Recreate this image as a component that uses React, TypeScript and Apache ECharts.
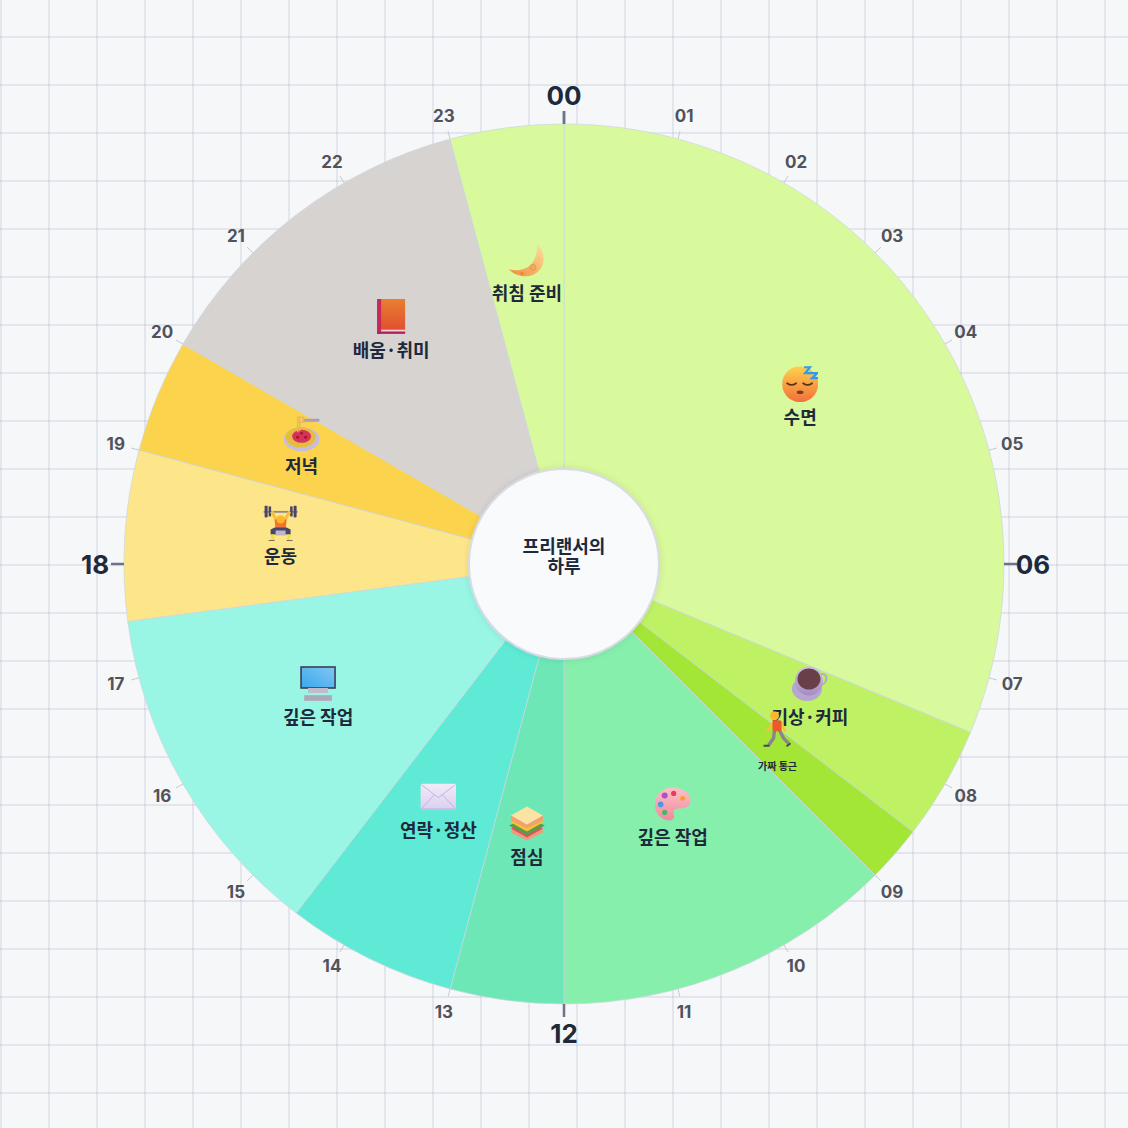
import React, { useEffect, useRef } from 'react'
import * as echarts from 'echarts'

const activities = ['수면', '기상·커피', '가짜 통근', '깊은 작업', '점심', '연락·정산', '깊은 작업', '운동', '저녁', '배움·취미', '취침 준비']
const hours = [7.5, 1, 0.5, 3, 1, 1.5, 3, 1.5, 1, 3, 1]
const colors = ['#d9f99d', '#bef264', '#a3e635', '#86efac', '#6ee7b7', '#5eead4', '#99f6e4', '#fde68a', '#fcd34d', '#d6d3d1', '#d9f99d']
const icons = ['sleep', 'coffee', 'walk', 'palette', 'sandwich', 'mail', 'monitor', 'lift', 'pasta', 'book', 'moon']
const hourLabels = ['00', '01', '02', '03', '04', '05', '06', '07', '08', '09', '10', '11', '12', '13', '14', '15', '16', '17', '18', '19', '20', '21', '22', '23']
const majorLabels = ['00', '06', '12', '18']
const centerTitle = '프리랜서의\n하루'

const CX = 564
const CY = 564
const FONT = '"Noto Sans CJK KR", "Noto Sans", sans-serif'

const lg = (id: string, a: string, b: string, extra = 'x1="0" y1="0" x2="0" y2="1"') =>
  `<linearGradient id="${id}" ${extra}><stop offset="0" stop-color="${a}"/><stop offset="1" stop-color="${b}"/></linearGradient>`

// 이모지 모양 (36x36)
const iconSvg: Record<string, string> = {
  moon: `<defs>${lg('a', '#fde3a0', '#ef8a3a', 'x1="1" y1="0" x2="0" y2="1"')}</defs>
    <path d="M28 1C37 10 37 23 28 30C20 36 8 35 0 27C9 29 18 27 23 21C27 16 29 8 28 1Z" fill="url(#a)"/>
    <circle cx="24" cy="25" r="3" fill="#f2a85a" stroke="#e89045" stroke-width=".7"/><circle cx="30" cy="16" r="1.6" fill="#f7c27a"/><circle cx="13" cy="31" r="1.8" fill="#e8873c"/>`,
  sleep: `<defs>${lg('a', '#ffd24a', '#f2703c')}</defs>
    <circle cx="18" cy="18" r="18" fill="url(#a)"/>
    <path d="M5 17q4.500 3.500 9 0M21 17q4.500 3.500 9 0" fill="none" stroke="#5a3418" stroke-width="1.7" stroke-linecap="round"/>
    <ellipse cx="18" cy="26" rx="3.400" ry="1.800" fill="#7a3c1e"/>
    <path d="M22 1h6l-5 6h6M29 7h6l-5 5h6" fill="none" stroke="#2f9bf0" stroke-width="2.2"/>`,
  coffee: `<defs>${lg('a', '#cfc2e2', '#a48cc4')}</defs>
    <ellipse cx="15" cy="23" rx="15" ry="12" fill="#b8a6d2"/>
    <path d="M29 8c8-1 7 10-1 11" fill="none" stroke="#b6a5d0" stroke-width="2"/>
    <ellipse cx="17" cy="15" rx="14" ry="14.500" fill="url(#a)"/>
    <ellipse cx="17" cy="13" rx="11.500" ry="10.500" fill="#6a4048"/>`,
  walk: `<path d="M15 19l-1 8-5 7" fill="none" stroke="#8a8490" stroke-width="3.400"/><path d="M20 19l4 8 5 5" fill="none" stroke="#8a8490" stroke-width="3.400"/>
    <path d="M4 34.500h6M27 35l4-3" stroke="#4a4468" stroke-width="2"/>
    <path d="M14 10l-5 8-3 1.500M21 10l3 7 2 3" fill="none" stroke="#fbbf3c" stroke-width="2.400"/>
    <rect x="13" y="9" width="9" height="11" rx="2" fill="#ea5a2c"/>
    <circle cx="15" cy="4.500" r="4.500" fill="#fbb72e"/>`,
  palette: `<defs>${lg('a', '#ffc0c8', '#f08a9c')}</defs>
    <path d="M18 1C8 1 0 9 0 18c0 9 7 16 15 16 5 0 5-4 4-7-1-4 2-5 6-5 6 0 11-2 11-8C36 6 27 1 18 1Z" fill="url(#a)"/>
    <circle cx="10" cy="9" r="3" fill="#a855c7"/><circle cx="19" cy="7" r="2.600" fill="#e83a5c"/><circle cx="6" cy="18" r="2.800" fill="#3aa0e8"/><circle cx="10" cy="26" r="2.600" fill="#48b868"/><circle cx="28" cy="12" r="2.400" fill="#f0a030"/>`,
  sandwich: `<path d="M18 16L34 25V27L18 35L2 27V25Z" fill="#ef9a78"/>
    <path d="M18 14L34 23L18 32L2 23Z" fill="#e44d68"/><path d="M18 12L36 20L18 30L0 20Z" fill="#5f9a48"/>
    <path d="M18 10L34 17L18 26L2 17Z" fill="#f5c430"/><path d="M18 4L34 10V15L18 23L2 15V10Z" fill="#f1a070"/>
    <path d="M18 1L34 10L18 19L2 10Z" fill="#fbe3a4"/>`,
  mail: `<defs>${lg('a', '#f1ebf8', '#dccff0')}</defs>
    <rect x="0" y="5" width="36" height="26" rx="2" fill="url(#a)"/>
    <path d="M1 6L18 19L35 6M1 30L14 16M35 30L22 16" fill="none" stroke="#c3b3de" stroke-width="1"/><rect x="0" y="29.500" width="36" height="1.500" fill="#cdb6ec"/>`,
  monitor: `<defs>${lg('a', '#3aa8ee', '#82c6f0', 'x1="0" y1="1" x2="1" y2="0"')}</defs>
    <rect x="1" y="1" width="34" height="21" fill="url(#a)" stroke="#3d3d58" stroke-width="1.600"/>
    <path d="M8 22h20v5H8z" fill="#c0bccc"/><rect x="4" y="29" width="28" height="6" fill="#b4b2c0"/>
    <path d="M5 31h26M5 33h26" stroke="#8f8da0" stroke-width=".7" stroke-dasharray="1 .6"/>`,
  lift: `<rect x="1" y="5.500" width="34" height="1.800" fill="#8a8a96"/>
    <rect x="2" y="0" width="3" height="12" rx="1" fill="#4a4468"/><rect x="6" y="1" width="2.500" height="10" fill="#4a4468"/><rect x="31" y="0" width="3" height="12" rx="1" fill="#4a4468"/><rect x="27.500" y="1" width="2.500" height="10" fill="#4a4468"/>
    <path d="M9 6l5 9M27 6l-5 9" stroke="#f6bf3c" stroke-width="3.200"/>
    <path d="M12 14h12l-1 11h-10z" fill="#f3702e"/><circle cx="18" cy="14" r="4" fill="#fbb72e"/>
    <path d="M8 24l4-2h12l4 2v5h-20z" fill="#4a4468"/><path d="M13 25h10v5h-10z" fill="#bcb6c8"/>
    <path d="M10 29v6M26 29v6" stroke="#f6e13a" stroke-width="3.400"/><path d="M6 35.500h6M24 35.500h6" stroke="#4a4468" stroke-width="1.200"/>`,
  pasta: `<path d="M19 5h17" stroke="#ab9cc0" stroke-width="3"/>
    <ellipse cx="18" cy="24" rx="18" ry="12" fill="#c9bddc"/>
    <ellipse cx="17" cy="22" rx="15" ry="10" fill="#e5bd3e"/>
    <ellipse cx="18" cy="21" rx="9.500" ry="6.500" fill="#d9305a"/><circle cx="14" cy="22" r="1.400" fill="#7e2030"/><circle cx="22" cy="22" r="1.400" fill="#7e2030"/><circle cx="18" cy="18" r="1.200" fill="#7e2030"/>
    <path d="M14 2h6v5h-6zM16 3v13M14 6v11" fill="none" stroke="#e6b860" stroke-width="1.400"/>`,
  book: `<defs>${lg('a', '#e88030', '#e04a30')}</defs>
    <rect x="4" y="0" width="28" height="35" rx="1" fill="url(#a)"/>
    <rect x="4" y="0" width="4" height="35" fill="#c42a5a"/>
    <rect x="8" y="31" width="24" height="2" fill="#f4d0da"/><rect x="4" y="33" width="28" height="2" fill="#b0205a"/>`,
}

const iconUri = (name: string) =>
  'data:image/svg+xml;charset=utf-8,' +
  encodeURIComponent(`<svg xmlns="http://www.w3.org/2000/svg" width="72" height="72" viewBox="0 0 36 36">${iconSvg[name]}</svg>`)

const richIcons: Record<string, any> = {}
icons.forEach((name) => {
  richIcons[name] = { width: 36, height: 36, lineHeight: 40, align: 'center', backgroundColor: { image: iconUri(name) } }
})

const gaugeBase = {
  type: 'gauge',
  center: [CX, CY],
  startAngle: 90,
  endAngle: -270,
  min: 0,
  max: 24,
  silent: true,
  pointer: { show: false },
  progress: { show: false },
  axisLine: { show: false, lineStyle: { width: 0 } },
  axisTick: { show: false },
  axisLabel: { show: false },
  detail: { show: false },
  title: { show: false },
  data: [{ value: 0 }],
}

// 시간 라벨용 투명 파이: 조각 가운데가 각 시각에 오도록 반 칸 돌린다
const labelRing = {
  type: 'pie',
  center: [CX, CY],
  clockwise: true,
  silent: true,
  avoidLabelOverlap: false,
  labelLine: { show: false },
  labelLayout: { hideOverlap: false },
  itemStyle: { color: 'transparent', borderWidth: 0 },
}

export default function App() {
  const chartRef = useRef<HTMLDivElement | null>(null)

  useEffect(() => {
    if (!chartRef.current) return
    const chart = echarts.init(chartRef.current, undefined, { renderer: 'svg' })

    const sectors = hours.map((value, i) => ({
      name: activities[i],
      value,
      itemStyle: { color: colors[i] },
    }))

    chart.setOption({
      animation: false,
      graphic: [
        {
          type: 'circle',
          z: 100,
          silent: true,
          shape: { cx: CX, cy: CY, r: 95 },
          style: { fill: '#f8fafc', stroke: '#d8dbe3', lineWidth: 2, shadowBlur: 6, shadowColor: 'rgba(15,23,42,0.1)' },
        },
        {
          type: 'text',
          z: 101,
          silent: true,
          x: CX,
          y: CY - 9,
          style: {
            text: centerTitle,
            fill: '#1e293b',
            font: `700 18px ${FONT}`,
            lineHeight: 20,
            align: 'center',
            verticalAlign: 'middle',
          },
        },
      ],
      series: [
        {
          type: 'pie',
          center: [CX, CY],
          radius: [90, 440],
          startAngle: 90,
          clockwise: true,
          silent: true,
          z: 2,
          label: { show: false },
          labelLine: { show: false },
          itemStyle: { borderColor: 'rgba(203,213,225,0.7)', borderWidth: 1 },
          data: sectors,
        },
        {
          // 라벨 전용 (보이지 않는 파이)
          type: 'pie',
          center: [CX, CY],
          radius: [122, 440],
          startAngle: 90,
          clockwise: true,
          silent: true,
          z: 3,
          avoidLabelOverlap: false,
          labelLine: { show: false },
          labelLayout: { dy: -10, hideOverlap: false },
          itemStyle: { color: 'transparent', borderWidth: 0 },
          label: {
            show: true,
            position: 'inside',
            formatter: (p: any) => {
              const small = p.dataIndex === 2
              return `{${icons[p.dataIndex]}|}\n{${small ? 'small' : 'name'}|${p.name}}`
            },
            rich: {
              ...richIcons,
              name: { fontFamily: FONT, fontSize: 18, fontWeight: 700, color: '#1e293b', lineHeight: 24, align: 'center' },
              small: { fontFamily: FONT, fontSize: 10, fontWeight: 700, color: '#1e293b', lineHeight: 24, height: 16, align: 'center', verticalAlign: 'bottom' },
            },
          },
          data: hours.map((value, i) => ({ name: activities[i], value })),
        },
        {
          ...gaugeBase,
          radius: 448,
          splitNumber: 24,
          z: 4,
          splitLine: { show: true, distance: 0, length: 8, lineStyle: { color: '#c6c9d2', width: 1 } },
        },
        {
          ...gaugeBase,
          radius: 453,
          splitNumber: 4,
          z: 5,
          splitLine: { show: true, distance: 0, length: 13, lineStyle: { color: '#6b7488', width: 2.5 } },
        },
        {
          ...labelRing,
          radius: [451, 471],
          startAngle: 97.5,
          z: 6,
          label: {
            show: true,
            position: 'inside',
            fontFamily: 'Inter',
            fontSize: 17,
            fontWeight: 700,
            color: '#52525b',
            formatter: (p: any) => (majorLabels.includes(p.name) ? '' : p.name),
          },
          data: hourLabels.map((name) => ({ name, value: 1 })),
        },
        {
          ...labelRing,
          radius: [456, 476],
          startAngle: 135,
          z: 7,
          label: {
            show: true,
            position: 'inside',
            fontFamily: 'Inter',
            fontSize: 26,
            fontWeight: 700,
            color: '#1e293b',
            formatter: '{b}',
          },
          data: majorLabels.map((name) => ({ name, value: 1 })),
        },
      ],
    })

    return () => {
      chart.dispose()
    }
  }, [])

  return (
    <div
      style={{
        position: 'fixed',
        left: 0,
        top: 0,
        width: 1128,
        height: 1128,
        backgroundColor: '#f6f7f9',
        backgroundImage:
          'linear-gradient(to right, rgba(120,125,160,0.14) 2px, transparent 2px), linear-gradient(to bottom, rgba(120,125,160,0.14) 2px, transparent 2px)',
        backgroundSize: '48px 48px',
        backgroundPosition: '0 0, 0 36px',
      }}
    >
      <div ref={chartRef} style={{ width: 1128, height: 1128 }} />
    </div>
  )
}
